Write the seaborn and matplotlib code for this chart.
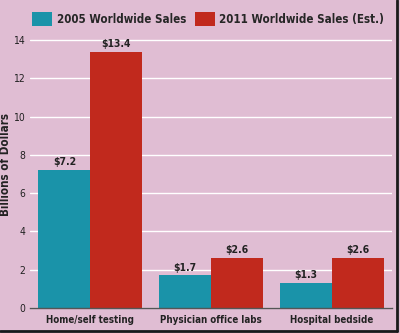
import matplotlib
matplotlib.use("Agg")
import matplotlib.pyplot as plt
import seaborn as sns
import pandas as pd
from matplotlib.lines import Line2D
from matplotlib.patches import Patch

categories = ["Home/self testing", "Physician office labs", "Hospital bedside"]
series_names = ["2005 Worldwide Sales", "2011 Worldwide Sales (Est.)"]
sales_2005 = [7.2, 1.7, 1.3]
sales_2011 = [13.4, 2.6, 2.6]
value_labels_2005 = ["$7.2", "$1.7", "$1.3"]
value_labels_2011 = ["$13.4", "$2.6", "$2.6"]
yticks = [0, 2, 4, 6, 8, 10, 12, 14]

colors = ["#1a93a9", "#c1291d"]
bg = "#e0bdd3"

df = pd.DataFrame({
    "Category": categories * 2,
    "Series": [series_names[0]] * 3 + [series_names[1]] * 3,
    "Value": sales_2005 + sales_2011,
})

sns.set_theme(style="white")
plt.rcParams["font.family"] = ["DejaVu Sans"]
plt.rcParams["font.stretch"] = "condensed"
TXT = "#222222"

fig = plt.figure(figsize=(4, 3.33), dpi=100, facecolor=bg)
ax = fig.add_axes([0.075, 0.075, 0.905, 0.822])
ax.set_facecolor(bg)

sns.barplot(data=df, x="Category", y="Value", hue="Series", order=categories,
            hue_order=series_names, palette=colors, width=0.86, saturation=1,
            ax=ax, legend=False, linewidth=0)

ax.set_ylim(0, 14.3)
ax.set_xlim(-0.5, 2.5)
ax.set_yticks(yticks)
ax.set_yticklabels([str(t) for t in yticks], fontsize=7.5, color=TXT, fontstretch="condensed")
ax.grid(axis="y", color="white", linewidth=1)
ax.set_axisbelow(True)
for s in ["top", "right", "left"]:
    ax.spines[s].set_visible(False)
ax.spines["bottom"].set_color("#555555")
ax.spines["bottom"].set_linewidth(1)
ax.tick_params(axis="y", length=2, width=1, color="white", pad=1.5)
ax.tick_params(axis="x", length=0, pad=5)
ax.set_xticks(range(len(categories)))
ax.set_xticklabels(categories, fontsize=7, fontweight="bold", color=TXT, fontstretch="condensed")
ax.set_xlabel("")
ax.set_ylabel("Billions of Dollars", fontsize=8.3, fontweight="bold", color=TXT,
              fontstretch="condensed")
ax.yaxis.set_label_coords(-0.05, 0.525)

for container, labs in zip(ax.containers, [value_labels_2005, value_labels_2011]):
    ax.bar_label(container, labels=labs, padding=2, fontsize=7.5, fontweight="bold", color=TXT,
                 fontstretch="condensed")

handles = [Patch(facecolor=c, edgecolor="none") for c in colors]
fig.legend(handles, series_names, loc="upper left", bbox_to_anchor=(0.055, 0.995), ncol=2,
           frameon=False, prop={"weight": "bold", "size": 8.3, "stretch": "condensed"},
           handlelength=1.7, handleheight=1.5, columnspacing=0.8, handletextpad=0.4)

fig.add_artist(Line2D([0.9925, 0.9925], [0.005, 1.0], color="#1a1a1a", linewidth=2, transform=fig.transFigure))
fig.add_artist(Line2D([0.0, 0.9925], [0.007, 0.007], color="#1a1a1a", linewidth=2, transform=fig.transFigure))

fig.savefig("out.png", dpi=100, facecolor=bg)
